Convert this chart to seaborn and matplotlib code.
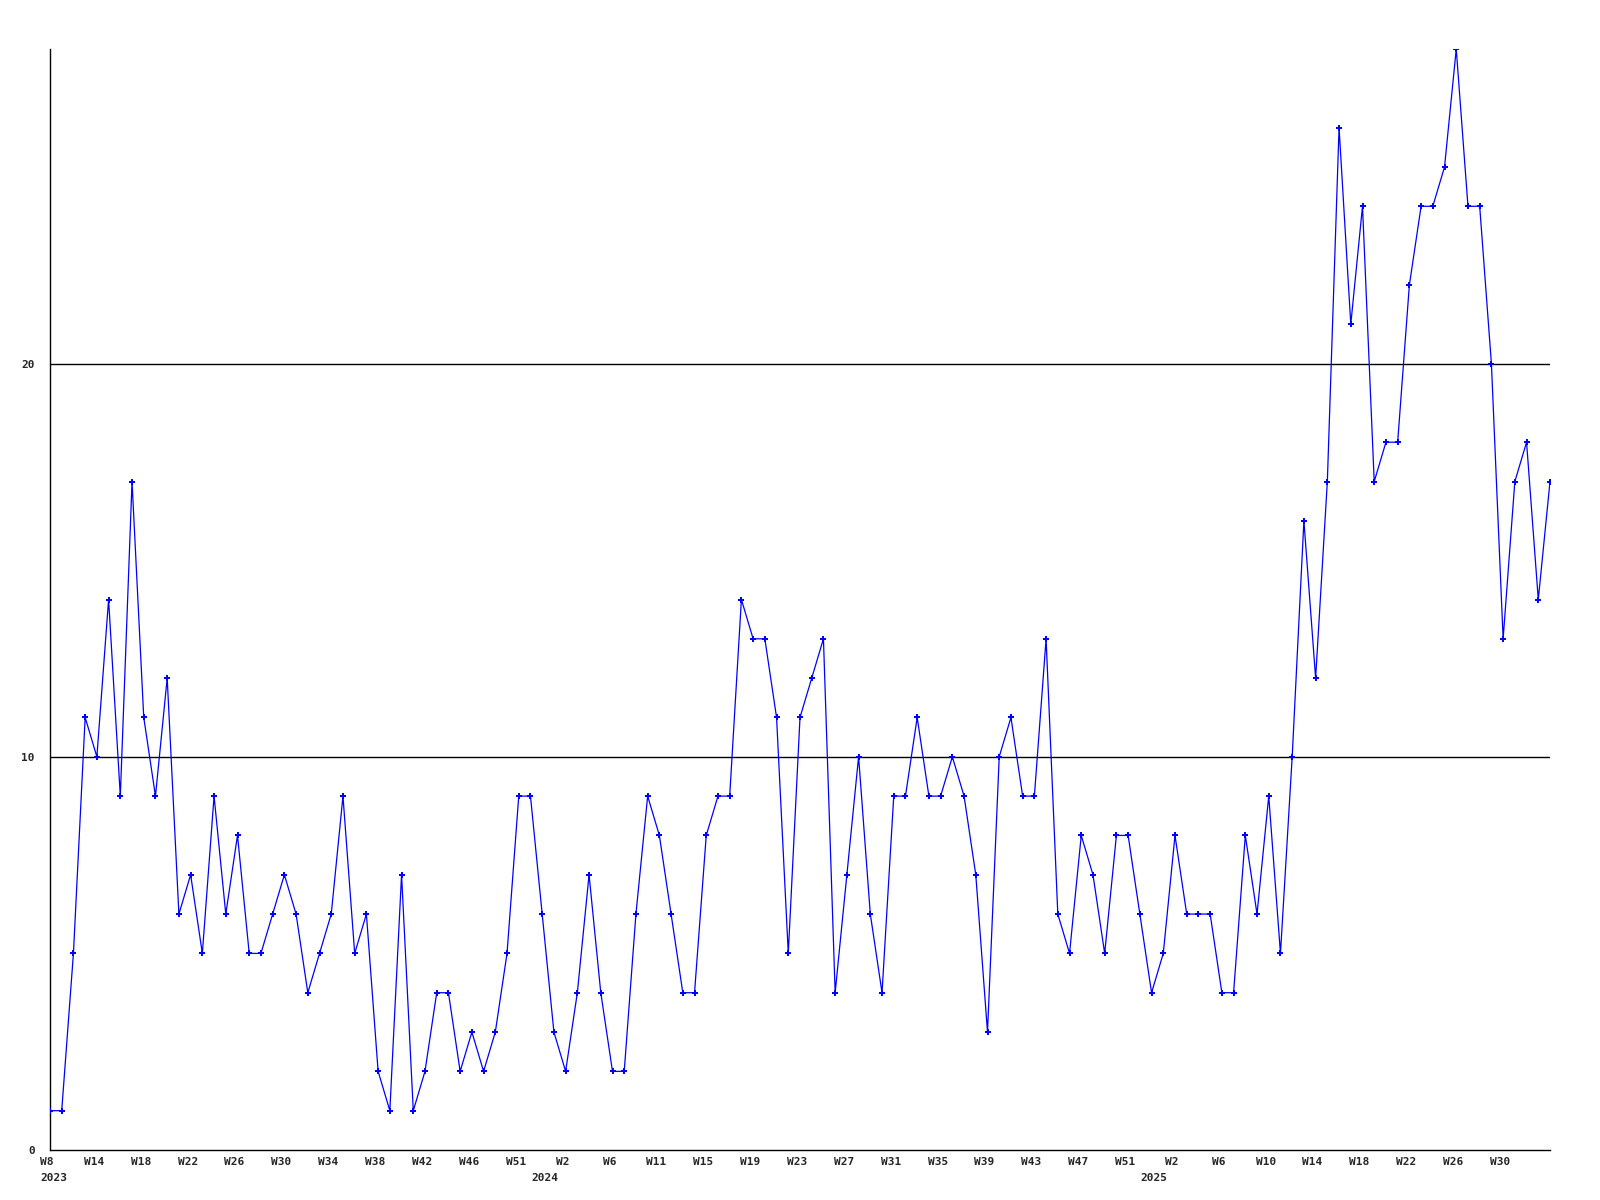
import matplotlib
matplotlib.use("Agg")
import matplotlib.pyplot as plt
import matplotlib.transforms as mtransforms
import seaborn as sns
import pandas as pd

# weekly counts, 2023 W8 .. 2025
values = [
    1, 1, 5, 11, 10, 14, 9, 17, 11, 9, 12, 6, 7, 5, 9, 6, 8, 5, 5, 6,
    7, 6, 4, 5, 6, 9, 5, 6, 2, 1, 7, 1, 2, 4, 4, 2, 3, 2, 3, 5,
    9, 9, 6, 3, 2, 4, 7, 4, 2, 2, 6, 9, 8, 6, 4, 4, 8, 9, 9, 14,
    13, 13, 11, 5, 11, 12, 13, 4, 7, 10, 6, 4, 9, 9, 11, 9, 9, 10, 9, 7,
    3, 10, 11, 9, 9, 13, 6, 5, 8, 7, 5, 8, 8, 6, 4, 5, 8, 6, 6, 6,
    4, 4, 8, 6, 9, 5, 10, 16, 12, 17, 26, 21, 24, 17, 18, 18, 22, 24, 24, 25,
    28, 24, 24, 20, 13, 17, 18, 14, 17,
]
week_labels = [
    "W8", "W14", "W18", "W22", "W26", "W30", "W34", "W38", "W42", "W46", "W51",
    "W2", "W6", "W11", "W15", "W19", "W23", "W27", "W31", "W35", "W39", "W43", "W47", "W51",
    "W2", "W6", "W10", "W14", "W18", "W22", "W26", "W30",
]
week_label_pos = list(range(0, 128, 4))
years = ["2023", "2024", "2025"]
year_pos = [0.3, 42.2, 94.2]

df = pd.DataFrame({"idx": range(len(values)), "count": values})

sns.set_style("white")
plt.rcParams["font.family"] = ["DejaVu Sans Mono"]

fig = plt.figure(figsize=(16, 12), dpi=100)
ax = fig.add_axes([50 / 1600, 1 - 1150 / 1200, 1500 / 1600, 1101 / 1200])

for y in [10, 20]:
    ax.axhline(y, color="black", lw=1.0, zorder=1)

sns.lineplot(data=df, x="idx", y="count", color="#0000ff", lw=0.9,
             marker="P", markersize=4.5, markeredgewidth=0, ax=ax, zorder=3)

ax.set_xlim(0, len(values) - 1)
ax.set_ylim(0, 28)
ax.set_xticks(week_label_pos)
ax.set_xticklabels(week_labels, fontsize=8, fontweight="bold")
ax.set_yticks([0, 10, 20])
ax.set_yticklabels(["0", "10", "20"], fontsize=8, fontweight="bold")
ax.tick_params(axis="x", length=0, pad=5)
ax.tick_params(axis="y", length=0, pad=11)
ax.set_xlabel("")
ax.set_ylabel("")

# labels sit a few pixels left of the points in the original
shift = mtransforms.ScaledTranslation(-3 / 100, 0, fig.dpi_scale_trans)
for lbl in ax.get_xticklabels():
    lbl.set_transform(lbl.get_transform() + shift)

trans = mtransforms.blended_transform_factory(ax.transData, ax.transAxes)
for yr, xp in zip(years, year_pos):
    ax.text(xp, -0.021, yr, transform=trans, ha="center", va="top",
            fontsize=8, fontweight="bold")

for side in ["top", "right"]:
    ax.spines[side].set_visible(False)
for side in ["left", "bottom"]:
    ax.spines[side].set_color("black")
    ax.spines[side].set_linewidth(1.0)

fig.savefig("out.png", dpi=100, facecolor="white")
